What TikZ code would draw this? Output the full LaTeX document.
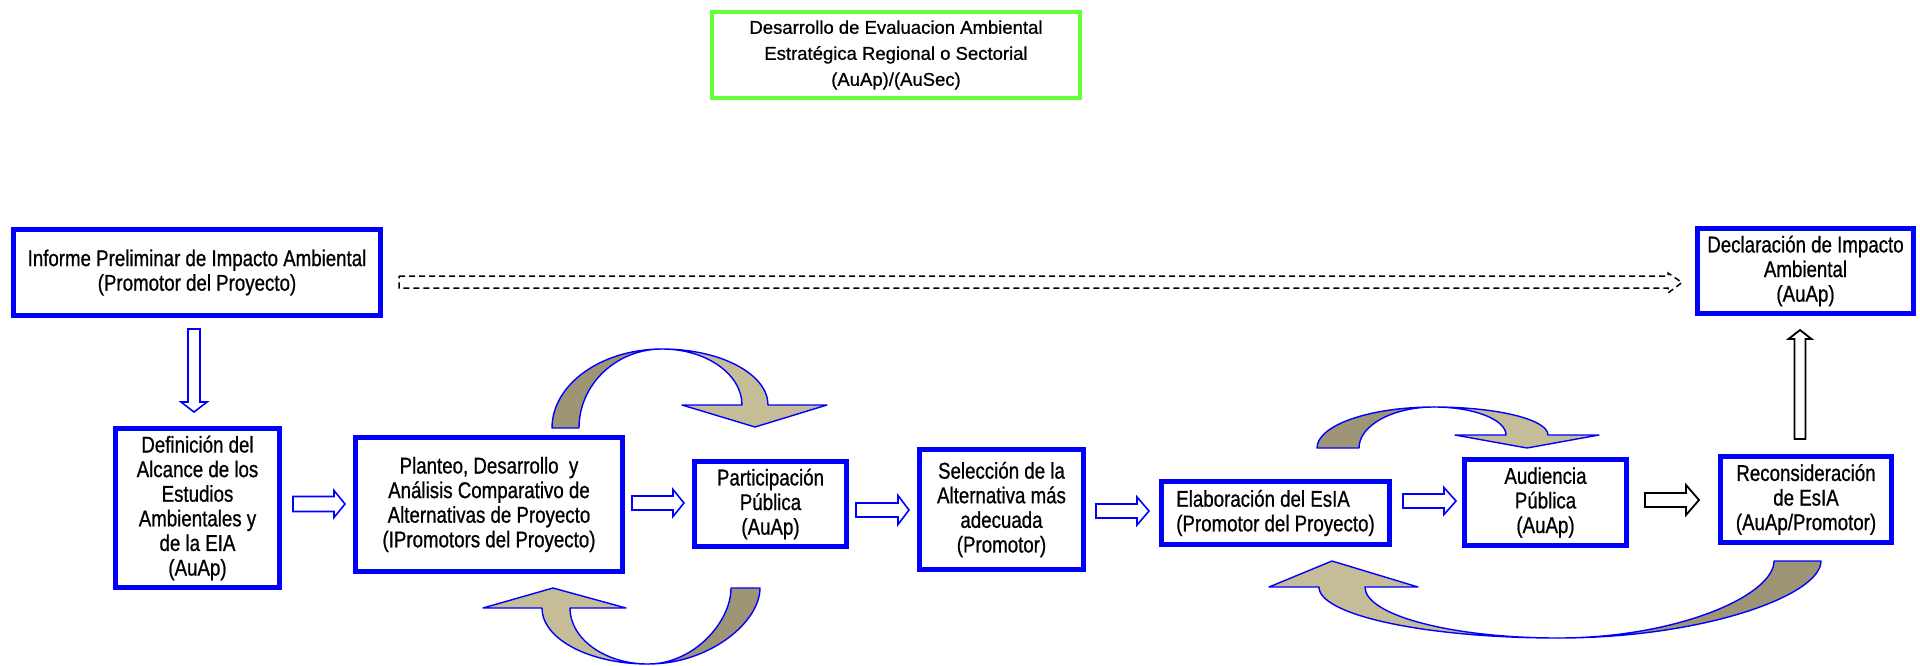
\documentclass[tikz,border=0pt]{standalone}
\usepackage{fontspec}
\setmainfont{Liberation Sans}[FakeStretch=0.82, FakeBold=0.8]
\newfontfamily\plainfont{Liberation Sans}[FakeBold=0.8]
\definecolor{bblue}{RGB}{0,0,255}
\definecolor{lgreen}{RGB}{102,255,51}
\definecolor{khaki}{HTML}{C4BD97}
\definecolor{khakid}{HTML}{9D9575}
\newcommand\hblk[7]{\draw[#1] (#2,{#5-#6}) -- (#3,{#5-#6}) -- (#3,{#5-#7}) -- (#4,#5) -- (#3,{#5+#7}) -- (#3,{#5+#6}) -- (#2,{#5+#6}) -- cycle;}
\begin{document}
\begin{tikzpicture}[x=1pt,y=-1pt,
  bx/.style={draw=bblue, line width=5pt, fill=white, inner sep=0pt, align=center,
    font=\fontsize{22.8}{24.6}\selectfont},
  arr/.style={draw=bblue, line width=1.6pt, fill=white, line join=miter},
  barr/.style={draw=black, line width=1.8pt, fill=white, line join=miter},
  curvd/.style={draw=bblue, line width=1.4pt, line join=round, fill=khakid},
  curvl/.style={draw=bblue, line width=1.4pt, line join=round, fill=khaki},
  dasharr/.style={draw=black, line width=1.5pt, dash pattern=on 6pt off 4pt}]
\useasboundingbox (0,0) rectangle (1920,665);

% top green box
\node[draw=lgreen, line width=4pt, minimum width=368pt, minimum height=86pt, inner sep=0pt,
  align=center, font=\plainfont\fontsize{18.5}{26}\selectfont] (eae) at (896,55)
  {Desarrollo de Evaluacion Ambiental\\Estratégica Regional o Sectorial\\(AuAp)/(AuSec)};

% boxes
\node[bx, minimum width=367pt, minimum height=86pt] (inf) at (197,272.5)
  {Informe Preliminar de Impacto Ambiental\\(Promotor del Proyecto)};
\node[bx, minimum width=216pt, minimum height=85pt] (dec) at (1805.5,271)
  {Declaración de Impacto\\Ambiental\\(AuAp)};
\node[bx, minimum width=164pt, minimum height=159pt] (def) at (197.5,508)
  {Definición del\\Alcance de los\\Estudios\\Ambientales y\\de la EIA\\(AuAp)};
\node[bx, minimum width=267pt, minimum height=134pt] (pla) at (489,504.5)
  {Planteo, Desarrollo~ y\\Análisis Comparativo de\\Alternativas de Proyecto\\(IPromotors del Proyecto)};
\node[bx, minimum width=152pt, minimum height=85pt] (par) at (770.5,504)
  {Participación\\Pública\\(AuAp)};
\node[bx, minimum width=164pt, minimum height=120pt] (sel) at (1001.5,509.5)
  {Selección de la\\Alternativa más\\adecuada\\(Promotor)};
\node[bx, minimum width=228pt, minimum height=63pt, align=left] (ela) at (1275.5,513)
  {Elaboración del EsIA\\(Promotor del Proyecto)};
\node[bx, minimum width=162pt, minimum height=86pt] (aud) at (1545.5,502.5)
  {Audiencia\\Pública\\(AuAp)};
\node[bx, minimum width=171pt, minimum height=86pt] (rec) at (1806,499.5)
  {Reconsideración\\de EsIA\\(AuAp/Promotor)};

% dashed block arrow inf -> dec
\draw[dasharr] (399,276) -- (1668,276) -- (1668,273) -- (1682,282.5) -- (1668,293) -- (1668,288) -- (399,288) -- cycle;

% vertical block arrows
\draw[arr] (188,329) -- (200,329) -- (200,402) -- (207,402) -- (194,412) -- (181,402) -- (188,402) -- cycle;
\draw[barr] (1794.5,439) -- (1794.5,339) -- (1788.5,339) -- (1800,330) -- (1811.5,339) -- (1805.5,339) -- (1805.5,439) -- cycle;

% horizontal block arrows
\hblk{arr}{293}{334}{345}{504}{7.5}{13.5}
\hblk{arr}{632}{673}{684}{503}{7}{13.5}
\hblk{arr}{856}{898}{909}{510}{7}{14.5}
\hblk{arr}{1096}{1137}{1149}{511}{7}{14}
\hblk{arr}{1403}{1444}{1456}{501}{7}{13.5}
\hblk{barr}{1645}{1686}{1699}{500}{7}{15}

% curved arrow A1 (over Planteo)
\draw[curvd] (552,428) .. controls (552,384.4) and (601.3,349) .. (662,349)
  .. controls (616.2,349) and (579,384.4) .. (579,428) -- cycle;
\draw[curvl] (662,349) .. controls (720.5,349) and (768,374) .. (768,405)
  -- (827,405) -- (755,427) -- (682,405) -- (742,405)
  .. controls (742,374) and (706,349) .. (662,349) -- cycle;

% curved arrow A2 (under Planteo)
\draw[curvd] (648,664) .. controls (709.8,664) and (760,622) .. (760,588)
  -- (731,588) .. controls (731,622) and (693.8,664) .. (648,664) -- cycle;
\draw[curvl] (542,608) .. controls (542,639) and (589.5,664) .. (648,664)
  .. controls (605,664) and (570,639) .. (570,608)
  -- (626,608) -- (553,588) -- (483,608) -- cycle;

% curved arrow A3 (Elaboracion -> Audiencia)
\draw[curvd] (1317,448) .. controls (1317,425.4) and (1369.4,407) .. (1434,407)
  .. controls (1392.6,407) and (1359,425.4) .. (1359,448) -- cycle;
\draw[curvl] (1434,407) .. controls (1496.9,407) and (1548,419.5) .. (1548,435)
  -- (1599,435) -- (1527,448) -- (1455,435) -- (1506,435)
  .. controls (1506,419.5) and (1473.7,407) .. (1434,407) -- cycle;

% curved arrow A4 (Reconsideracion -> Elaboracion)
\draw[curvd] (1558,638) .. controls (1703,638) and (1821,595.5) .. (1821,561)
  -- (1774,561) .. controls (1774,595.5) and (1677,638) .. (1558,638) -- cycle;
\draw[curvl] (1319,587) .. controls (1319,615.2) and (1426.1,638) .. (1558,638)
  .. controls (1451.5,638) and (1365,615.2) .. (1365,587)
  -- (1418,587) -- (1332,561) -- (1269,587) -- cycle;
\end{tikzpicture}
\end{document}
